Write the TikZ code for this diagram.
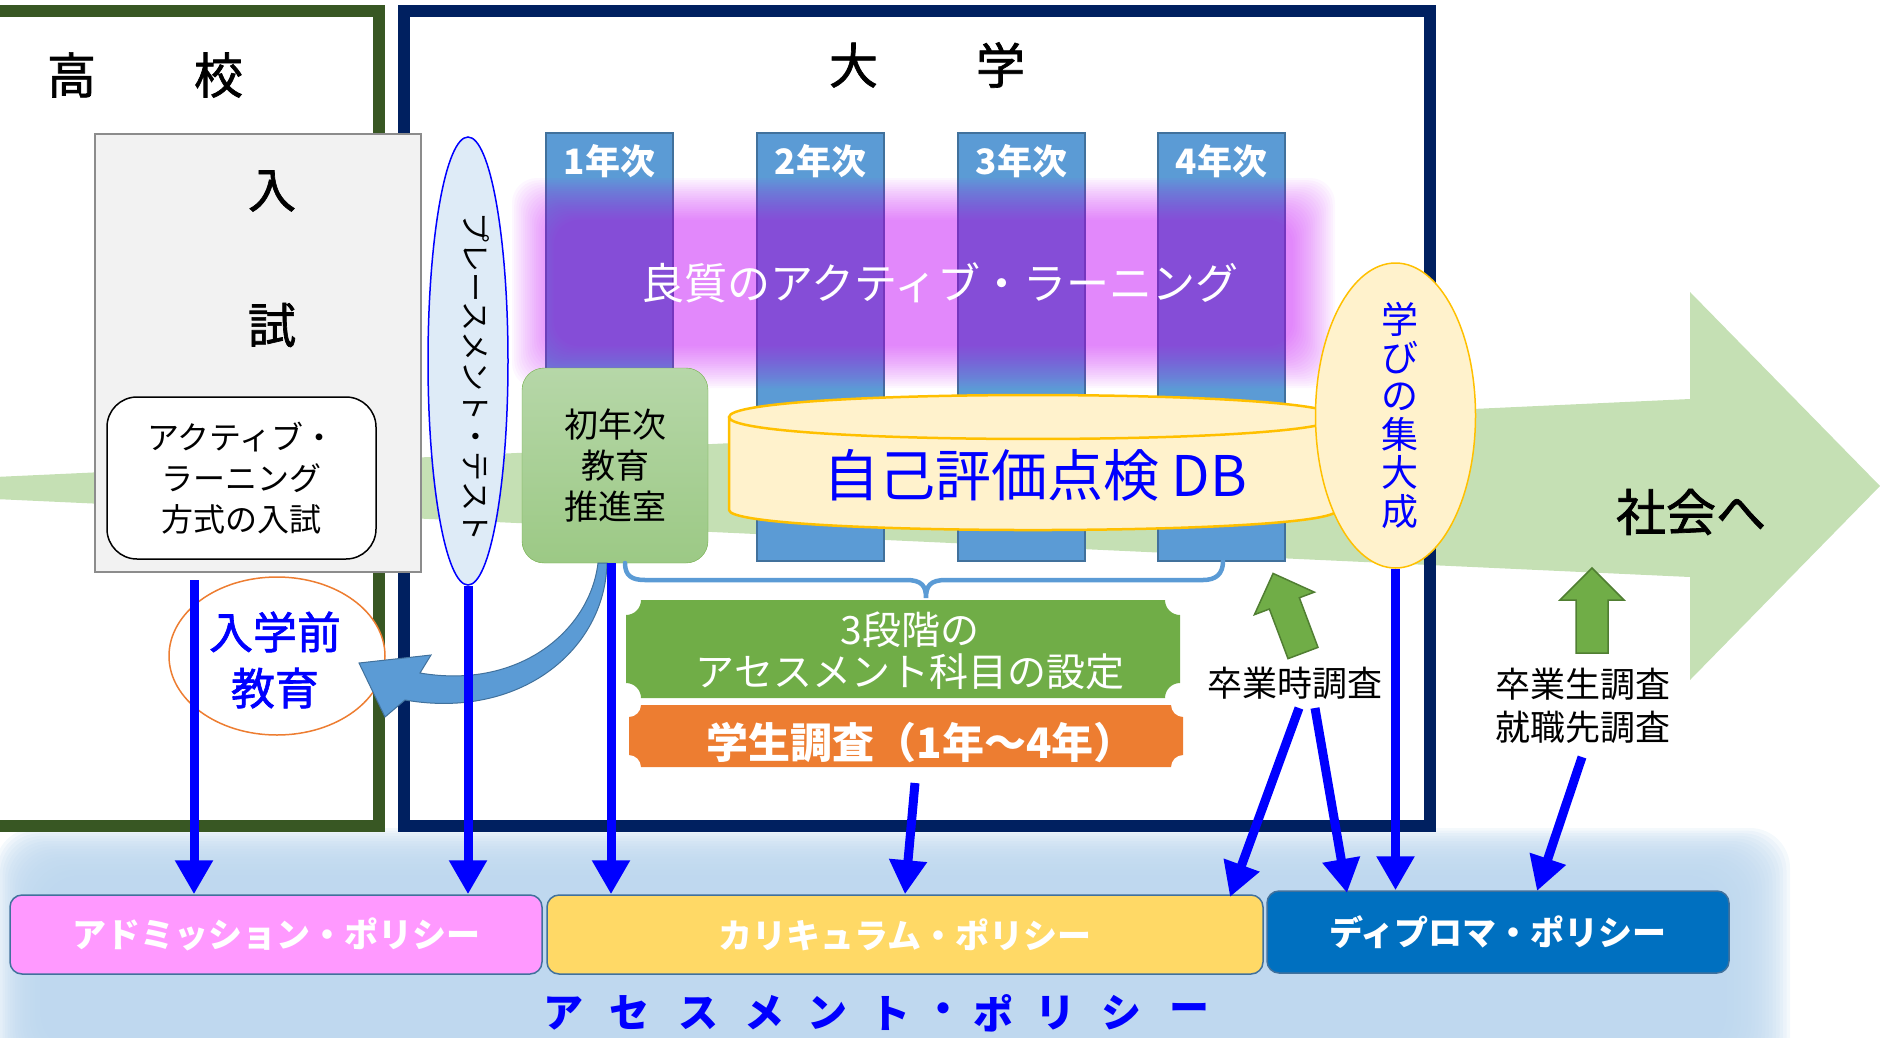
\documentclass[tikz,border=0pt]{standalone}
\usepackage{fontspec}
\setmainfont{Noto Sans CJK JP}
\newfontfamily\medjp[FakeBold=1.4]{Noto Sans CJK JP}
\usetikzlibrary{arrows.meta,shapes.geometric}
\definecolor{framegreen}{HTML}{385723}
\definecolor{framenavy}{HTML}{002060}
\definecolor{colblue}{HTML}{5B9BD5}
\definecolor{colborder}{HTML}{41719C}
\definecolor{cylfill}{HTML}{FFF2CC}
\definecolor{cylline}{HTML}{FFC000}
\definecolor{ptfill}{HTML}{DEEBF7}
\definecolor{arrowgreen}{HTML}{C5E0B4}
\definecolor{plgreen}{HTML}{70AD47}
\definecolor{plorange}{HTML}{ED7D31}
\definecolor{pinkone}{HTML}{FF99FF}
\definecolor{yellowone}{HTML}{FFD966}
\definecolor{dblue}{HTML}{0070C0}
\definecolor{glowblue}{HTML}{BDD7EE}
\definecolor{glowpurple}{HTML}{C203F6}
\definecolor{upline}{HTML}{507E32}
\definecolor{nyushigray}{HTML}{F2F2F2}
\definecolor{nyushiline}{HTML}{8C8C8C}
\definecolor{fytop}{HTML}{B6D7A8}
\definecolor{fybot}{HTML}{9CC985}
\definecolor{fyline}{HTML}{70AD47}
\definecolor{pureblue}{HTML}{0000FF}
\newcommand\fs[2]{\fontsize{#1}{#2}\selectfont}
\newcommand\myplaque[6]{%
 \fill[#6] ({#1+#5},#2) -- ({#3-#5},#2)
  .. controls ({#3-#5},{#2+0.55*#5}) and ({#3-0.55*#5},{#2+#5}) .. (#3,{#2+#5})
  -- (#3,{#4-#5})
  .. controls ({#3-0.55*#5},{#4-#5}) and ({#3-#5},{#4-0.55*#5}) .. ({#3-#5},#4)
  -- ({#1+#5},#4)
  .. controls ({#1+#5},{#4-0.55*#5}) and ({#1+0.55*#5},{#4-#5}) .. (#1,{#4-#5})
  -- (#1,{#2+#5})
  .. controls ({#1+0.55*#5},{#2+#5}) and ({#1+#5},{#2+0.55*#5}) .. ({#1+#5},#2)
  -- cycle;}
\tikzset{
  bluearr/.style={draw=pureblue, line width=9, -{Triangle[width=36pt,length=34pt]}},
  colbox/.style={draw=colborder, fill=colblue, line width=1.5, minimum width=127, minimum height=428, inner sep=0},
  collabel/.style={text=white, font=\bfseries\fs{35}{40}, inner sep=0},
  policy/.style={rounded corners=12, draw=colborder, line width=1.5, inner sep=0, text=white, font=\bfseries\fs{34}{40}},
  uparrow/.style={fill=plgreen, draw=upline, line width=1.5},
  bracestyle/.style={draw=colblue, line width=4.5, line cap=round}
}
\begin{document}
\begin{tikzpicture}[x=1pt,y=-1pt,line join=miter]
\useasboundingbox (0,0) rectangle (1880,1037);
\clip (0,0) rectangle (1880,1037);
% bottom glow
\foreach \i in {0,...,19} {\fill[glowblue, opacity=0.16, rounded corners=40] ({-5+2.5*\i},{828+2.6*\i}) rectangle ({1790-3.5*\i},{1080-1.5*\i});}
% big green arrow
\fill[arrowgreen] (-5,477) -- (1690,399) -- (1690,292) -- (1880,486) -- (1690,680) -- (1690,577) -- (-5,499) -- cycle;
% frames
\draw[framegreen, line width=12] (-40,11) rectangle (379,826);
\draw[framenavy, line width=12] (404,11) rectangle (1430,826);
% year columns
\foreach \yn/\x in {1/609.5, 2/820.5, 3/1021.5, 4/1221.5} {
  \node[colbox] (col\yn) at (\x,347) {};
  \node[collabel] (lab\yn) at (\x,161) {{\yn}年次};
}
% purple glow
\foreach \i in {0,...,19} {\fill[glowpurple, opacity=0.0303, rounded corners=25] ({512+2.2*\i},{178+2.2*\i}) rectangle ({1335-2.2*\i},{388-2.2*\i});}
\node[font=\fs{43}{50}, text=white, inner sep=0] (alt) at (940,283) {良質のアクティブ・ラーニング};
% entrance exam box
\node[draw=nyushiline, fill=nyushigray, line width=1.5, minimum width=326, minimum height=438, inner sep=0] (nyushi) at (258,353) {};
\node[font=\medjp\fs{48}{56}, inner sep=0] (nyu) at (272,191) {入};
\node[font=\medjp\fs{48}{56}, inner sep=0] (shi) at (272,325) {試};
\node[draw=black, fill=white, line width=1.5, rounded corners=30, minimum width=269, minimum height=162, inner sep=0, align=center, font=\fs{32}{41}] (aln) at (241.5,478) {アクティブ・\\ラーニング\\方式の入試};
% placement test
\node[ellipse, draw=pureblue, fill=ptfill, line width=1.5, minimum width=80, minimum height=448, inner sep=0] (pt) at (468,361) {};
\node[rotate=-90, font=\fs{30}{36}, inner sep=0] (ptl) at (476,377) {プレースメント・テスト};
% first-year education office
\node[rounded corners=22, draw=fyline, top color=fytop, bottom color=fybot, minimum width=186, minimum height=195, inner sep=0, align=center, font=\fs{34}{41}] (fy) at (615,465.5) {初年次\\教育\\推進室};
% DB cylinder
\fill[cylfill] (729,417) -- (729,510) .. controls (729,536.7) and (1337,536.7) .. (1337,510) -- (1337,417) .. controls (1337,387.7) and (729,387.7) .. (729,417) -- cycle;
\draw[cylline, line width=2.5] (729,417) -- (729,510) .. controls (729,536.7) and (1337,536.7) .. (1337,510) -- (1337,417) .. controls (1337,387.7) and (729,387.7) .. (729,417) .. controls (729,446.3) and (1337,446.3) .. (1337,417);
\node[font=\fs{56}{60}, text=pureblue, inner sep=0] (db) at (1035,475) {自己評価点検 DB};
% culmination ellipse
\node[ellipse, draw=cylline, fill=cylfill, line width=1.5, minimum width=160, minimum height=305, inner sep=0] (mb) at (1395.5,415.5) {};
\node[align=center, font=\fs{37}{38.4}, text=pureblue, inner sep=0] (mbl) at (1400,415) {学\\び\\の\\集\\大\\成};
% pre-enrolment education
\node[ellipse, draw=plorange, fill=white, line width=1.5, minimum width=216, minimum height=158, inner sep=0] (nz) at (277,656) {};
\node[align=center, font=\medjp\fs{44}{56}, text=pureblue, inner sep=0] (nzl) at (275,660) {入学前\\教育};
% curved arrow
\filldraw[fill=colblue, draw=colborder, line width=1] (598,563) .. controls (590,630) and (520,690) .. (420,673) -- (431,655) -- (359,663) -- (385,717) -- (405,700) .. controls (520,720) and (605,650) .. (607,563) -- cycle;
% brace
\draw[bracestyle] (625,563) .. controls (625,576) and (632,580) .. (645,580) -- (906,580) .. controls (922,580) and (926,586) .. (926,598) .. controls (926,586) and (930,580) .. (946,580) -- (1203,580) .. controls (1216,580) and (1223,574) .. (1223,561);
% plaques
\myplaque{626}{600}{1180}{698}{15}{plgreen}
\node[align=center, font=\fs{39}{42}, text=white, inner sep=0] (pl1) at (910,651) {3段階の\\アセスメント科目の設定};
\myplaque{629}{705}{1183}{767}{12}{plorange}
\node[font=\bfseries\fs{42}{48}, text=white, inner sep=0] (pl2) at (921,743) {学生調査（1年～4年）};
% green block arrows
\begin{scope}[shift={(1303,653)}, rotate=20.6]
\filldraw[uparrow] (-16,0) -- (-16,-53) -- (-32,-53) -- (0,-85) -- (32,-53) -- (16,-53) -- (16,0) -- cycle;
\end{scope}
\filldraw[uparrow] (1576,653) -- (1576,600) -- (1560,600) -- (1592,568) -- (1624,600) -- (1608,600) -- (1608,653) -- cycle;
% survey texts
\node[font=\fs{35}{42}, inner sep=0] (sot) at (1295,683) {卒業時調査};
\node[align=center, font=\fs{35}{43}, inner sep=0] (sos) at (1583,706) {卒業生調査\\就職先調査};
\node[font=\medjp\fs{50}{60}, inner sep=0] (sk) at (1691,512) {社会へ};
% headers
\node[font=\medjp\fs{49}{58}, inner sep=0] (kk) at (145,75) {高　　校};
\node[font=\medjp\fs{49}{58}, inner sep=0] (dg) at (927,65) {大　　学};
% policy boxes
\node[policy, fill=pinkone, minimum width=532, minimum height=79] (ap) at (276,934.5) {アドミッション・ポリシー};
\node[policy, fill=yellowone, minimum width=716, minimum height=79] (cp) at (905,934.5) {カリキュラム・ポリシー};
\node[policy, fill=dblue, minimum width=462, minimum height=82] (dp) at (1498,932) {ディプロマ・ポリシー};
% blue arrows
\coordinate (s1) at (194,580);
\coordinate (s3) at (611,563);
\coordinate (s4) at (915,783);
\coordinate (s5) at (1299,708);
\coordinate (e5) at (1230,897);
\coordinate (s6) at (1315,708);
\coordinate (e6) at (1347,893);
\coordinate (s8) at (1582,757);
\coordinate (e8) at (1537,891);
\draw[bluearr] (s1) -- (s1 |- ap.north);
\draw[bluearr] (pt.south) -- (pt.south |- ap.north);
\draw[bluearr] (s3) -- (s3 |- cp.north);
\draw[bluearr] (s4) -- (cp.north);
\draw[bluearr] (s5) -- (e5);
\draw[bluearr] (s6) -- (e6);
\draw[bluearr] (mb.south) -- (mb.south |- dp.north);
\draw[bluearr] (s8) -- (e8);
% assessment policy
\foreach \ch/\x [count=\k] in {ア/563, セ/629, ス/698, メ/764, ン/827, ト/890, ・/943, ポ/993, リ/1055, シ/1121, ー/1189} {
  \node[font=\bfseries\fs{40}{46}, text=pureblue, inner sep=0] (asp\k) at (\x,1013) {\ch};
}
\end{tikzpicture}
\end{document}
